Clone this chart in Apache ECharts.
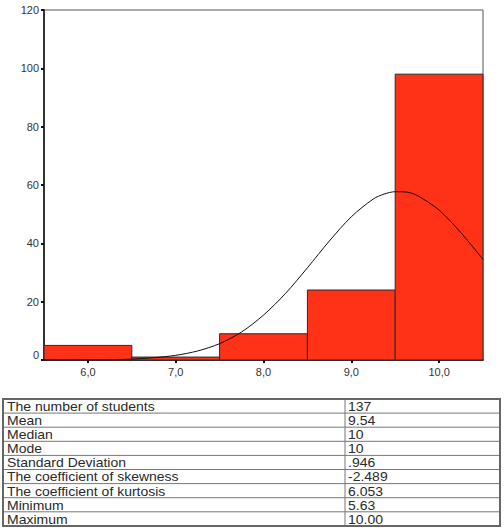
<!DOCTYPE html>
<html>
<head>
<meta charset="utf-8">
<script src="https://cdn.jsdelivr.net/npm/echarts@6/dist/echarts.min.js"></script>
<style>
  html, body { margin: 0; padding: 0; background: #fff; }
  #main { width: 504px; height: 531px; }
</style>
</head>
<body>
<div id="main"></div>
<script>
// histogram bins (width 1, centred on the tick values)
const binStart = [5.5, 6.5, 7.5, 8.5, 9.5];
const binEnd = [6.5, 7.5, 8.5, 9.5, 10.5];
const counts = [5, 1, 9, 24, 98];

// normal curve
const curveX = [5.5, 6, 6.25, 6.5, 6.75, 7, 7.25, 7.5, 7.75, 8, 8.25, 8.5, 8.75, 9, 9.25, 9.375, 9.5, 9.625, 9.75, 10, 10.25, 10.5];
const curveY = [0, 0.05, 0.1, 0.3, 0.8, 1.6, 3.1, 5.6, 9.6, 15.4, 22.8, 31.6, 40.8, 49.1, 55.2, 56.9, 57.7, 57.6, 56.4, 51.4, 43.6, 34.5];

// axis ticks
const xTicks = [6, 7, 8, 9, 10];
const yTicks = [0, 20, 40, 60, 80, 100, 120];

// table under the chart
const statLabels = ['The number of students', 'Mean', 'Median', 'Mode', 'Standard Deviation',
  'The coefficient of skewness', 'The coefficient of kurtosis', 'Minimum', 'Maximum'];
const statValues = ['137', '9.54', '10', '10', '.946', '-2.489', '6.053', '5.63', '10.00'];

const font = '"Liberation Sans", Arial, Helvetica, sans-serif';

// table drawn as graphic elements
const tLeft = 3, tRight = 500, tTop = 399, rowH = 14.1, colX = 345;
const tBottom = tTop + rowH * statLabels.length;
const tableEls = [];
// the table text is a bit flattened in the original, so squash it vertically
const cell = (x, y, txt) => ({
  type: 'text', x: x, y: y, scaleY: 0.86,
  style: { text: txt, font: '14px ' + font, fill: '#2a2a2a', verticalAlign: 'middle' }
});
statLabels.forEach((lab, i) => {
  const y = tTop + rowH * i;
  if (i > 0) {
    tableEls.push({ type: 'line', shape: { x1: tLeft, y1: y, x2: tRight, y2: y },
      style: { stroke: '#777', lineWidth: 1 } });
  }
  tableEls.push(cell(tLeft + 4, y + rowH / 2 + 0.8, lab));
  tableEls.push(cell(colX + 3, y + rowH / 2 + 0.8, statValues[i]));
});
tableEls.push({ type: 'line', shape: { x1: colX, y1: tTop, x2: colX, y2: tBottom },
  style: { stroke: '#777', lineWidth: 1 } });
tableEls.push({ type: 'rect', shape: { x: tLeft, y: tTop, width: tRight - tLeft, height: tBottom - tTop },
  style: { fill: 'none', stroke: '#666', lineWidth: 2 } });

const chart = echarts.init(document.getElementById('main'), null, { renderer: 'svg' });

chart.setOption({
  animation: false,
  backgroundColor: '#fff',
  grid: {
    left: 44, right: 21, top: 10, bottom: 171,
    show: true, borderColor: '#555', borderWidth: 1, backgroundColor: 'transparent'
  },
  xAxis: {
    type: 'value', min: 5.5, max: 10.5,
    splitLine: { show: false },
    axisLine: { lineStyle: { color: '#333', width: 2 } },
    axisTick: { customValues: xTicks, length: 3, lineStyle: { color: '#111', width: 2 } },
    axisLabel: {
      customValues: xTicks, margin: 6, color: '#333', fontSize: 11, fontFamily: font,
      formatter: v => v.toFixed(1).replace('.', ',')
    }
  },
  yAxis: {
    type: 'value', min: 0, max: 120, interval: 20,
    splitLine: { show: false },
    axisLine: { show: true, lineStyle: { color: '#333', width: 2 } },
    axisTick: { show: true, customValues: yTicks, length: 3, lineStyle: { color: '#111', width: 2 } },
    axisLabel: {
      customValues: yTicks, margin: 5, color: '#333', fontSize: 11, fontFamily: font,
      // SPSS lifts the "0" label a little above the baseline
      formatter: v => (v === 0 ? '{up|0}' : String(v)),
      rich: { up: { fontSize: 11, fontFamily: font, color: '#333', padding: [0, 0, 10, 0] } }
    }
  },
  series: [
    {
      type: 'custom',
      data: counts.map((c, i) => [binStart[i], binEnd[i], c]),
      renderItem: (params, api) => {
        const p0 = api.coord([api.value(0), api.value(2)]);
        const p1 = api.coord([api.value(1), 0]);
        return {
          type: 'rect',
          shape: { x: p0[0], y: p0[1], width: p1[0] - p0[0], height: p1[1] - p0[1] },
          style: { fill: '#ff3218', stroke: '#2a2a2a', lineWidth: 1 }
        };
      },
      z: 2
    },
    {
      type: 'line',
      data: curveX.map((x, i) => [x, curveY[i]]),
      smooth: 0.3,
      showSymbol: false,
      lineStyle: { color: '#111', width: 1 },
      z: 3
    }
  ],
  graphic: tableEls
});
</script>
</body>
</html>
